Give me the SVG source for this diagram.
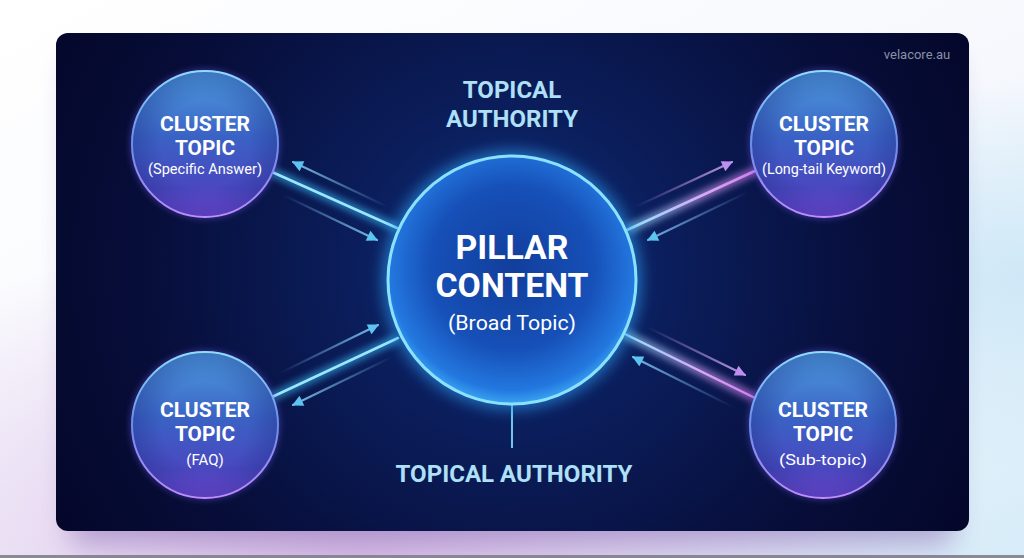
<svg xmlns="http://www.w3.org/2000/svg" width="1024" height="558" viewBox="0 0 1024 558">
  <defs>
    <linearGradient id="bgGrad" x1="0" y1="0" x2="1" y2="1">
      <stop offset="0" stop-color="#ffffff"/>
      <stop offset="0.55" stop-color="#f6f8fd"/>
      <stop offset="1" stop-color="#d6ecf8"/>
    </linearGradient>
    <radialGradient id="bgPink" cx="0.35" cy="1" r="0.6">
      <stop offset="0" stop-color="#d7b8e6" stop-opacity="0.9"/>
      <stop offset="1" stop-color="#d7b8e6" stop-opacity="0"/>
    </radialGradient>
    <radialGradient id="bgBlue" cx="1" cy="0.5" r="0.35">
      <stop offset="0" stop-color="#cfe8f7" stop-opacity="1"/>
      <stop offset="1" stop-color="#cfe8f7" stop-opacity="0"/>
    </radialGradient>
    <radialGradient id="panelGrad" cx="512" cy="270" r="520" gradientUnits="userSpaceOnUse">
      <stop offset="0" stop-color="#12357f"/>
      <stop offset="0.3" stop-color="#0b1e5c"/>
      <stop offset="0.7" stop-color="#070e3a"/>
      <stop offset="1" stop-color="#04072a"/>
    </radialGradient>
    <linearGradient id="clusterFill" x1="0" y1="0" x2="0" y2="1">
      <stop offset="0" stop-color="#4f9fe0"/>
      <stop offset="0.45" stop-color="#3a62c4"/>
      <stop offset="0.8" stop-color="#4a48c0"/>
      <stop offset="1" stop-color="#7a48d8"/>
    </linearGradient>
    <radialGradient id="clusterShade" cx="0.5" cy="0.5" r="0.5">
      <stop offset="0.6" stop-color="#1a2a80" stop-opacity="0"/>
      <stop offset="1" stop-color="#1a2a80" stop-opacity="0.35"/>
    </radialGradient>
    <linearGradient id="clusterRim" x1="0" y1="0" x2="0" y2="1">
      <stop offset="0" stop-color="#8fdcff"/>
      <stop offset="0.5" stop-color="#6a8ce8"/>
      <stop offset="1" stop-color="#c08cff"/>
    </linearGradient>
    <radialGradient id="pillarFill" cx="0.5" cy="0.45" r="0.55">
      <stop offset="0" stop-color="#123e9c"/>
      <stop offset="0.6" stop-color="#1650b8"/>
      <stop offset="0.9" stop-color="#2378e0"/>
      <stop offset="1" stop-color="#3aa4f0"/>
    </radialGradient>
    <filter id="glow" x="-50%" y="-50%" width="200%" height="200%">
      <feGaussianBlur stdDeviation="7"/>
    </filter>
    <filter id="softGlow" x="-50%" y="-50%" width="200%" height="200%">
      <feGaussianBlur stdDeviation="3"/>
    </filter>
    <filter id="shadow" x="-20%" y="-20%" width="140%" height="160%">
      <feGaussianBlur stdDeviation="14"/>
    </filter>
    <linearGradient id="lineTR" x1="627" y1="230" x2="757" y2="170" gradientUnits="userSpaceOnUse">
      <stop offset="0" stop-color="#8fe4ff"/>
      <stop offset="0.6" stop-color="#d9a8f8"/>
      <stop offset="1" stop-color="#d07cf0"/>
    </linearGradient>
    <linearGradient id="lineBR" x1="623" y1="333" x2="755" y2="398" gradientUnits="userSpaceOnUse">
      <stop offset="0" stop-color="#8fe4ff"/>
      <stop offset="0.6" stop-color="#d9a8f8"/>
      <stop offset="1" stop-color="#d07cf0"/>
    </linearGradient>
    <linearGradient id="a1" x1="388" y1="207" x2="293" y2="162" gradientUnits="userSpaceOnUse">
      <stop offset="0" stop-color="#7fc8f0" stop-opacity="0"/><stop offset="1" stop-color="#7fc8f0" stop-opacity="0.95"/>
    </linearGradient>
    <linearGradient id="a2" x1="283" y1="195" x2="377" y2="240" gradientUnits="userSpaceOnUse">
      <stop offset="0" stop-color="#7fc8f0" stop-opacity="0"/><stop offset="1" stop-color="#7fc8f0" stop-opacity="0.95"/>
    </linearGradient>
    <linearGradient id="a3" x1="280" y1="373" x2="378" y2="325" gradientUnits="userSpaceOnUse">
      <stop offset="0" stop-color="#7fc8f0" stop-opacity="0"/><stop offset="1" stop-color="#7fc8f0" stop-opacity="0.95"/>
    </linearGradient>
    <linearGradient id="a4" x1="392" y1="357" x2="293" y2="405" gradientUnits="userSpaceOnUse">
      <stop offset="0" stop-color="#7fc8f0" stop-opacity="0"/><stop offset="1" stop-color="#7fc8f0" stop-opacity="0.95"/>
    </linearGradient>
    <linearGradient id="a5" x1="635" y1="207" x2="732" y2="162" gradientUnits="userSpaceOnUse">
      <stop offset="0" stop-color="#c9a0f0" stop-opacity="0"/><stop offset="1" stop-color="#c9a0f0" stop-opacity="0.95"/>
    </linearGradient>
    <linearGradient id="a6" x1="748" y1="192" x2="648" y2="240" gradientUnits="userSpaceOnUse">
      <stop offset="0" stop-color="#7fb0f0" stop-opacity="0"/><stop offset="1" stop-color="#7fb8f0" stop-opacity="0.95"/>
    </linearGradient>
    <linearGradient id="a7" x1="647" y1="327" x2="745" y2="375" gradientUnits="userSpaceOnUse">
      <stop offset="0" stop-color="#c9a0f0" stop-opacity="0"/><stop offset="1" stop-color="#c9a0f0" stop-opacity="0.95"/>
    </linearGradient>
    <linearGradient id="a8" x1="733" y1="407" x2="633" y2="357" gradientUnits="userSpaceOnUse">
      <stop offset="0" stop-color="#7fb0f0" stop-opacity="0"/><stop offset="1" stop-color="#7fc8f0" stop-opacity="0.95"/>
    </linearGradient>
    <marker id="headBlue" viewBox="0 0 10 10" refX="9" refY="5" markerWidth="13" markerHeight="11" markerUnits="userSpaceOnUse" orient="auto">
      <path d="M0,0 L10,5 L0,10 z" fill="#5cc4f0"/>
    </marker>
    <marker id="headPurple" viewBox="0 0 10 10" refX="9" refY="5" markerWidth="13" markerHeight="11" markerUnits="userSpaceOnUse" orient="auto">
      <path d="M0,0 L10,5 L0,10 z" fill="#c08ef0"/>
    </marker>
    <style>
      .title { font-family: Roboto, "Liberation Sans", sans-serif; font-weight: 700; fill: #ffffff; text-anchor: middle; }
      .sub { font-family: Roboto, "Liberation Sans", sans-serif; font-weight: 400; fill: #ffffff; text-anchor: middle; }
      .auth { font-family: Roboto, "Liberation Sans", sans-serif; font-weight: 700; fill: #aee0f8; text-anchor: middle; font-size: 24px; }
      .arrow { stroke-width: 2; fill: none; stroke-linecap: round; }
      .mainGlow { stroke-width: 10; fill: none; opacity: 0.55; }
      .main { stroke-width: 2.5; fill: none; stroke-linecap: round; }
    </style>
  </defs>

  <!-- outer background -->
  <rect x="0" y="0" width="1024" height="558" fill="url(#bgGrad)"/>
  <rect x="0" y="0" width="1024" height="558" fill="url(#bgPink)"/>
  <rect x="0" y="0" width="1024" height="558" fill="url(#bgBlue)"/>
  <rect x="0" y="555" width="1024" height="3" fill="#8a8a92"/>

  <!-- panel -->
  <rect x="70" y="60" width="885" height="485" rx="14" fill="#7a5aa8" opacity="0.45" filter="url(#shadow)"/>
  <rect x="56" y="33" width="913" height="498" rx="12" fill="url(#panelGrad)"/>
  <text x="917" y="59" font-family="Roboto, 'Liberation Sans', sans-serif" font-size="13" fill="#8890a8" text-anchor="middle">velacore.au</text>

  <g id="topical-authority-top">
    <text class="auth" x="512" y="98">TOPICAL</text>
    <text class="auth" x="512" y="127">AUTHORITY</text>
  </g>

  <!-- connectors -->
  <g id="connectors">
    <line x1="272" y1="172" x2="397" y2="228" stroke="#38b4f0" class="mainGlow" filter="url(#softGlow)"/>
    <line x1="272" y1="397" x2="398" y2="338" stroke="#38b4f0" class="mainGlow" filter="url(#softGlow)"/>
    <line x1="627" y1="230" x2="757" y2="170" stroke="url(#lineTR)" class="mainGlow" filter="url(#softGlow)"/>
    <line x1="623" y1="333" x2="755" y2="398" stroke="url(#lineBR)" class="mainGlow" filter="url(#softGlow)"/>
    <line x1="272" y1="172" x2="397" y2="228" stroke="#9ae8ff" class="main"/>
    <line x1="272" y1="397" x2="398" y2="338" stroke="#9ae8ff" class="main"/>
    <line x1="627" y1="230" x2="757" y2="170" stroke="url(#lineTR)" class="main"/>
    <line x1="623" y1="333" x2="755" y2="398" stroke="url(#lineBR)" class="main"/>
    <line x1="512" y1="404" x2="512" y2="448" stroke="#6cc6f0" stroke-width="2"/>
    <line x1="388" y1="207" x2="293" y2="162" stroke="url(#a1)" class="arrow" marker-end="url(#headBlue)"/>
    <line x1="283" y1="195" x2="377" y2="240" stroke="url(#a2)" class="arrow" marker-end="url(#headBlue)"/>
    <line x1="280" y1="373" x2="378" y2="325" stroke="url(#a3)" class="arrow" marker-end="url(#headBlue)"/>
    <line x1="392" y1="357" x2="293" y2="405" stroke="url(#a4)" class="arrow" marker-end="url(#headBlue)"/>
    <line x1="635" y1="207" x2="732" y2="162" stroke="url(#a5)" class="arrow" marker-end="url(#headPurple)"/>
    <line x1="748" y1="192" x2="648" y2="240" stroke="url(#a6)" class="arrow" marker-end="url(#headBlue)"/>
    <line x1="647" y1="327" x2="745" y2="375" stroke="url(#a7)" class="arrow" marker-end="url(#headPurple)"/>
    <line x1="733" y1="407" x2="633" y2="357" stroke="url(#a8)" class="arrow" marker-end="url(#headBlue)"/>
  </g>

  <g id="pillar">
    <circle cx="512" cy="280" r="130" fill="#2a9af0" opacity="0.6" filter="url(#glow)"/>
    <circle cx="512" cy="280" r="124" fill="url(#pillarFill)" stroke="#8ae2ff" stroke-width="3"/>
    <text class="title" x="512" y="259" font-size="33" textLength="113" lengthAdjust="spacingAndGlyphs">PILLAR</text>
    <text class="title" x="512" y="297" font-size="33" textLength="153" lengthAdjust="spacingAndGlyphs">CONTENT</text>
    <text class="sub" x="512" y="330" font-size="21" textLength="128" lengthAdjust="spacingAndGlyphs">(Broad Topic)</text>
  </g>

  <g id="cluster-tl">
    <circle cx="205" cy="144" r="75" fill="#6a58e0" opacity="0.45" filter="url(#softGlow)"/>
    <circle cx="205" cy="144" r="73" fill="url(#clusterFill)"/>
    <circle cx="205" cy="144" r="73" fill="url(#clusterShade)" stroke="url(#clusterRim)" stroke-width="2"/>
    <text class="title" x="205" y="131" font-size="21" textLength="90" lengthAdjust="spacingAndGlyphs">CLUSTER</text>
    <text class="title" x="205" y="155" font-size="21" textLength="60" lengthAdjust="spacingAndGlyphs">TOPIC</text>
    <text class="sub" x="205" y="174" font-size="14" textLength="114" lengthAdjust="spacingAndGlyphs">(Specific Answer)</text>
  </g>
  <g id="cluster-tr">
    <circle cx="824" cy="144" r="75" fill="#6a58e0" opacity="0.45" filter="url(#softGlow)"/>
    <circle cx="824" cy="144" r="73" fill="url(#clusterFill)"/>
    <circle cx="824" cy="144" r="73" fill="url(#clusterShade)" stroke="url(#clusterRim)" stroke-width="2"/>
    <text class="title" x="824" y="131" font-size="21" textLength="90" lengthAdjust="spacingAndGlyphs">CLUSTER</text>
    <text class="title" x="824" y="155" font-size="21" textLength="60" lengthAdjust="spacingAndGlyphs">TOPIC</text>
    <text class="sub" x="824" y="174" font-size="14" textLength="124" lengthAdjust="spacingAndGlyphs">(Long-tail Keyword)</text>
  </g>
  <g id="cluster-bl">
    <circle cx="205" cy="425" r="75" fill="#6a58e0" opacity="0.45" filter="url(#softGlow)"/>
    <circle cx="205" cy="425" r="73" fill="url(#clusterFill)"/>
    <circle cx="205" cy="425" r="73" fill="url(#clusterShade)" stroke="url(#clusterRim)" stroke-width="2"/>
    <text class="title" x="205" y="417" font-size="21" textLength="90" lengthAdjust="spacingAndGlyphs">CLUSTER</text>
    <text class="title" x="205" y="441" font-size="21" textLength="60" lengthAdjust="spacingAndGlyphs">TOPIC</text>
    <text class="sub" x="205" y="465" font-size="15">(FAQ)</text>
  </g>
  <g id="cluster-br">
    <circle cx="823" cy="425" r="75" fill="#6a58e0" opacity="0.45" filter="url(#softGlow)"/>
    <circle cx="823" cy="425" r="73" fill="url(#clusterFill)"/>
    <circle cx="823" cy="425" r="73" fill="url(#clusterShade)" stroke="url(#clusterRim)" stroke-width="2"/>
    <text class="title" x="823" y="417" font-size="21" textLength="90" lengthAdjust="spacingAndGlyphs">CLUSTER</text>
    <text class="title" x="823" y="441" font-size="21" textLength="60" lengthAdjust="spacingAndGlyphs">TOPIC</text>
    <text class="sub" x="823" y="465" font-size="15" textLength="88" lengthAdjust="spacingAndGlyphs">(Sub-topic)</text>
  </g>

  <g id="topical-authority-bottom">
    <text class="auth" x="514" y="482" textLength="237" lengthAdjust="spacingAndGlyphs">TOPICAL AUTHORITY</text>
  </g>
</svg>
